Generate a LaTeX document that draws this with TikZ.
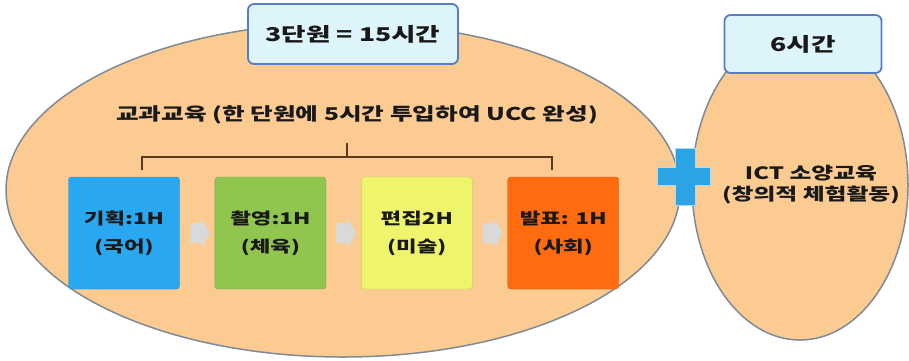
\documentclass[tikz,border=0pt]{standalone}
\usepackage{fontspec}
\setmainfont{Noto Sans CJK KR}[FakeStretch=1.4]
\usetikzlibrary{shapes.geometric,positioning,arrows.meta}

\definecolor{peach}{HTML}{FCCB92}
\definecolor{ovalline}{HTML}{7E8A96}
\definecolor{tagfill}{HTML}{DCF4FA}
\definecolor{tagline}{HTML}{5A7CC0}
\definecolor{skyblue}{HTML}{29A7F0}
\definecolor{leaf}{HTML}{90C650}
\definecolor{lemon}{HTML}{EEF46C}
\definecolor{tangerine}{HTML}{FF6B0F}
\definecolor{plusblue}{HTML}{2CA3E5}
\definecolor{bracketbrown}{HTML}{5B3A1F}

\begin{document}
\begin{tikzpicture}[x=1pt,y=-1pt]

        \useasboundingbox (0,0) rectangle (909,360);
        \def\d{35pt}

        % looks shared by the ovals, tags and lesson boxes
        \tikzset{
            oval/.style={ellipse, draw=ovalline, line width=1.5pt,
                fill=peach, inner sep=0pt},
            tag/.style={draw=tagline, line width=1.8pt, fill=tagfill,
                rounded corners=6pt, inner sep=0pt, text=black!90,
                font=\fontsize{19}{21}\selectfont\bfseries},
            lesson/.style={minimum width=111pt, minimum height=112pt,
                inner sep=0pt, rounded corners=3pt, align=center,
                text=black!90, font=\fontsize{16}{28}\selectfont\bfseries},
            flow/.style={line width=20pt, black!15,
                -{Triangle[length=8pt,width=30pt]},
                shorten <=10pt, shorten >=5pt},
            bracket/.style={draw=bracketbrown, line width=2pt}
        }

        % the two ovals and the plus between them
        \node[oval, minimum width=674pt, minimum height=334pt]
            (unit) at (343,190) {};
        \node[oval, minimum width=216pt, minimum height=310pt]
            (ictoval) at (800,185) {};
        \fill[plusblue, draw=plusblue!40!white, line width=1pt]
            (675,148) -- (695,148) -- (695,167) -- (710,167) -- (710,185)
            -- (695,185) -- (695,205) -- (675,205) -- (675,185) -- (657,185)
            -- (657,167) -- (675,167) -- cycle;

        % tags on top of the ovals
        \node[tag, minimum width=210pt, minimum height=60pt]
            (units) at (353,34) {3단원 = 15시간};
        \node[tag, minimum width=157pt, minimum height=58pt]
            (hours) at (803,44) {6시간};

        % oval texts
        \node[font=\fontsize{17.6}{20}\selectfont\bfseries, text=black!90]
            (subject) at (357,115) {교과교육 (한 단원에 5시간 투입하여 UCC 완성)};
        \node[align=center, text=black!90,
            font=\fontsize{17}{21}\selectfont\bfseries]
            (ict) at (811,185) {ICT 소양교육\\(창의적 체험활동)};

        % lesson boxes
        \begin{scope}
            \node[lesson, fill=skyblue, draw=skyblue!85!black] (plan)
                at (124,233) {기획:1H\\(국어)};
            \node[lesson, fill=leaf, draw=leaf!85!black] (shoot)
                [right=\d of plan] {촬영:1H\\(체육)};
            \node[lesson, fill=lemon, draw=lemon!85!black] (edit)
                [right=\d of shoot] {편집2H\\(미술)};
            \node[lesson, fill=tangerine, draw=tangerine!85!black] (present)
                [right=\d of edit] {발표: 1H\\(사회)};
        \end{scope}

        \begin{scope}
            \draw[flow] (plan) -- (shoot);
            \draw[flow] (shoot) -- (edit);
            \draw[flow] (edit) -- (present);
        \end{scope}

        % bracket under the subject line
        \coordinate (brL) at (142,170);
        \coordinate (brR) at (552,170);
        \coordinate (brTop) at (347,143);
        \draw[bracket] (brL) -- ++(0,-13) -| (brR);
        \draw[bracket] (brTop) -- ++(0,14);

\end{tikzpicture}
\end{document}
